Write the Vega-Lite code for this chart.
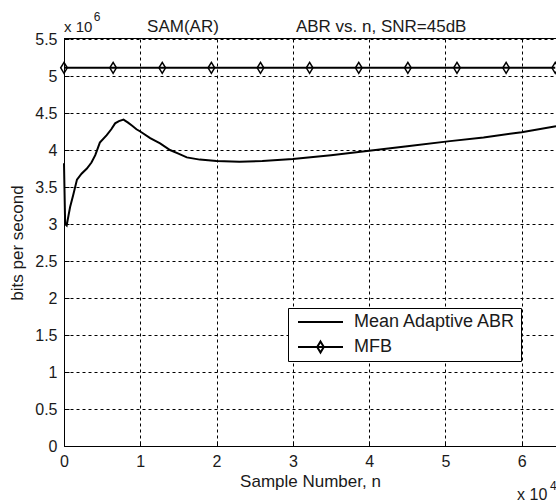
{
  "$schema": "https://vega.github.io/schema/vega-lite/v6.json",
  "width": 492,
  "height": 407,
  "autosize": {"type": "none"},
  "padding": {"left": 64, "top": 39, "right": 0, "bottom": 57},
  "background": "white",
  "config": {
    "view": {"stroke": null},
    "font": "Liberation Sans",
    "text": {"font": "Liberation Sans", "color": "#1a1a1a"},
    "axis": {
      "labelFont": "Liberation Sans",
      "titleFont": "Liberation Sans",
      "labelColor": "#1a1a1a",
      "titleColor": "#1a1a1a",
      "labelFontSize": 16,
      "titleFontSize": 17,
      "titleFontWeight": "normal",
      "domainColor": "black",
      "domainWidth": 1,
      "tickColor": "black",
      "gridColor": "black",
      "gridOpacity": 1,
      "gridWidth": 1,
      "gridDash": [3, 3]
    },
    "legend": {"labelFont": "Liberation Sans"}
  },
  "datasets": {
    "abr": [
      {"series": "Mean Adaptive ABR", "n": 0, "abr": 3.82},
      {"series": "Mean Adaptive ABR", "n": 0.015, "abr": 3.0},
      {"series": "Mean Adaptive ABR", "n": 0.035, "abr": 2.98},
      {"series": "Mean Adaptive ABR", "n": 0.06, "abr": 3.12},
      {"series": "Mean Adaptive ABR", "n": 0.08, "abr": 3.23},
      {"series": "Mean Adaptive ABR", "n": 0.12, "abr": 3.39},
      {"series": "Mean Adaptive ABR", "n": 0.17, "abr": 3.6},
      {"series": "Mean Adaptive ABR", "n": 0.23, "abr": 3.68},
      {"series": "Mean Adaptive ABR", "n": 0.3, "abr": 3.75},
      {"series": "Mean Adaptive ABR", "n": 0.36, "abr": 3.83},
      {"series": "Mean Adaptive ABR", "n": 0.41, "abr": 3.93},
      {"series": "Mean Adaptive ABR", "n": 0.47, "abr": 4.1},
      {"series": "Mean Adaptive ABR", "n": 0.56, "abr": 4.2},
      {"series": "Mean Adaptive ABR", "n": 0.62, "abr": 4.28},
      {"series": "Mean Adaptive ABR", "n": 0.67, "abr": 4.36},
      {"series": "Mean Adaptive ABR", "n": 0.72, "abr": 4.39},
      {"series": "Mean Adaptive ABR", "n": 0.78, "abr": 4.41},
      {"series": "Mean Adaptive ABR", "n": 0.84, "abr": 4.37},
      {"series": "Mean Adaptive ABR", "n": 0.89, "abr": 4.33},
      {"series": "Mean Adaptive ABR", "n": 0.95, "abr": 4.28},
      {"series": "Mean Adaptive ABR", "n": 1.0, "abr": 4.25},
      {"series": "Mean Adaptive ABR", "n": 1.13, "abr": 4.16},
      {"series": "Mean Adaptive ABR", "n": 1.26, "abr": 4.09},
      {"series": "Mean Adaptive ABR", "n": 1.39, "abr": 4.0},
      {"series": "Mean Adaptive ABR", "n": 1.5, "abr": 3.95},
      {"series": "Mean Adaptive ABR", "n": 1.61, "abr": 3.9},
      {"series": "Mean Adaptive ABR", "n": 1.78, "abr": 3.87},
      {"series": "Mean Adaptive ABR", "n": 2.0, "abr": 3.85},
      {"series": "Mean Adaptive ABR", "n": 2.3, "abr": 3.84},
      {"series": "Mean Adaptive ABR", "n": 2.6, "abr": 3.85},
      {"series": "Mean Adaptive ABR", "n": 3.0, "abr": 3.88},
      {"series": "Mean Adaptive ABR", "n": 3.5, "abr": 3.93},
      {"series": "Mean Adaptive ABR", "n": 4.0, "abr": 3.99},
      {"series": "Mean Adaptive ABR", "n": 4.5, "abr": 4.05},
      {"series": "Mean Adaptive ABR", "n": 5.06, "abr": 4.12},
      {"series": "Mean Adaptive ABR", "n": 5.5, "abr": 4.17},
      {"series": "Mean Adaptive ABR", "n": 6.0, "abr": 4.24},
      {"series": "Mean Adaptive ABR", "n": 6.45, "abr": 4.32},
      {"series": "MFB", "n": 0, "abr": 5.11},
      {"series": "MFB", "n": 0.644, "abr": 5.11},
      {"series": "MFB", "n": 1.288, "abr": 5.11},
      {"series": "MFB", "n": 1.932, "abr": 5.11},
      {"series": "MFB", "n": 2.576, "abr": 5.11},
      {"series": "MFB", "n": 3.22, "abr": 5.11},
      {"series": "MFB", "n": 3.864, "abr": 5.11},
      {"series": "MFB", "n": 4.508, "abr": 5.11},
      {"series": "MFB", "n": 5.152, "abr": 5.11},
      {"series": "MFB", "n": 5.796, "abr": 5.11},
      {"series": "MFB", "n": 6.44, "abr": 5.11}
    ],
    "one": [{"top": 5.5}]
  },
  "layer": [
    {
      "data": {"name": "abr"},
      "mark": {"type": "line", "strokeWidth": 2},
      "encoding": {
        "x": {"field": "n", "type": "quantitative", "scale": {"domain": [0, 6.45], "nice": false, "zero": false},
          "axis": {"values": [0, 1, 2, 3, 4, 5, 6], "title": "Sample Number, n", "grid": true, "ticks": true, "tickSize": -5, "labelPadding": 12, "titlePadding": 4, "labelFlush": false}},
        "y": {"field": "abr", "type": "quantitative", "scale": {"domain": [0, 5.5], "nice": false, "zero": false},
          "axis": {"values": [0, 0.5, 1, 1.5, 2, 2.5, 3, 3.5, 4, 4.5, 5, 5.5], "format": "~g", "title": "bits per second", "grid": true, "ticks": true, "tickSize": -5, "labelPadding": 12, "titlePadding": 8, "labelFlush": false}},
        "color": {
          "field": "series", "type": "nominal",
          "scale": {"domain": ["Mean Adaptive ABR", "MFB"], "range": ["black", "black"]},
          "legend": {
            "title": null,
            "orient": "none",
            "legendX": 224,
            "legendY": 269,
            "fillColor": "white",
            "strokeColor": "black",
            "padding": 4,
            "clipHeight": 20,
            "rowPadding": 5,
            "symbolType": "M-1,0H1",
            "symbolSize": 2025,
            "symbolStrokeWidth": 2,
            "symbolOffset": 5,
            "labelOffset": 10,
            "labelFontSize": 18,
            "labelColor": "#1a1a1a",
            "labelLimit": 300,
            "encode": {
              "symbols": {
                "update": {
                  "shape": {"signal": "datum.value === 'MFB' ? 'M-1,0H1M0,-0.244L0.147,0L0,0.244L-0.147,0Z' : 'M-1,0H1'"},
                  "fill": {"value": "transparent"},
                  "stroke": {"value": "black"}
                }
              }
            }
          }
        }
      }
    },
    {
      "data": {"name": "abr"},
      "transform": [{"filter": "datum.series === 'MFB'"}],
      "mark": {"type": "point", "shape": "M0,-1L0.6,0L0,1L-0.6,0Z", "size": 121, "filled": false, "stroke": "black", "strokeWidth": 1.5, "opacity": 1},
      "encoding": {
        "x": {"field": "n", "type": "quantitative", "scale": {"domain": [0, 6.45], "nice": false, "zero": false},
          "axis": {"values": [0, 1, 2, 3, 4, 5, 6], "title": "Sample Number, n", "grid": true, "ticks": true, "tickSize": -5, "labelPadding": 12, "titlePadding": 4, "labelFlush": false}},
        "y": {"field": "abr", "type": "quantitative", "scale": {"domain": [0, 5.5], "nice": false, "zero": false},
          "axis": {"values": [0, 0.5, 1, 1.5, 2, 2.5, 3, 3.5, 4, 4.5, 5, 5.5], "format": "~g", "title": "bits per second", "grid": true, "ticks": true, "tickSize": -5, "labelPadding": 12, "titlePadding": 8, "labelFlush": false}}
      }
    },
    {
      "data": {"name": "one"},
      "mark": {"type": "rule", "color": "black", "strokeWidth": 1, "yOffset": -0.5},
      "encoding": {
        "y": {"field": "top", "type": "quantitative", "scale": {"domain": [0, 5.5], "nice": false, "zero": false},
          "axis": {"values": [0, 0.5, 1, 1.5, 2, 2.5, 3, 3.5, 4, 4.5, 5, 5.5], "format": "~g", "title": "bits per second", "grid": true, "ticks": true, "tickSize": -5, "labelPadding": 12, "titlePadding": 8, "labelFlush": false}}
      }
    },
    {
      "data": {"name": "one"},
      "mark": {"type": "text", "align": "center", "baseline": "alphabetic", "fontSize": 17, "text": "SAM(AR)"},
      "encoding": {
        "x": {"datum": 1.56, "type": "quantitative", "scale": {"domain": [0, 6.45], "nice": false, "zero": false},
          "axis": {"values": [0, 1, 2, 3, 4, 5, 6], "title": "Sample Number, n", "grid": true, "ticks": true, "tickSize": -5, "labelPadding": 12, "titlePadding": 4, "labelFlush": false}},
        "y": {"datum": 5.6, "type": "quantitative", "scale": {"domain": [0, 5.5], "nice": false, "zero": false},
          "axis": {"values": [0, 0.5, 1, 1.5, 2, 2.5, 3, 3.5, 4, 4.5, 5, 5.5], "format": "~g", "title": "bits per second", "grid": true, "ticks": true, "tickSize": -5, "labelPadding": 12, "titlePadding": 8, "labelFlush": false}}
      }
    },
    {
      "data": {"name": "one"},
      "mark": {"type": "text", "align": "left", "baseline": "alphabetic", "fontSize": 17, "text": "ABR vs. n, SNR=45dB"},
      "encoding": {
        "x": {"datum": 3.04, "type": "quantitative", "scale": {"domain": [0, 6.45], "nice": false, "zero": false},
          "axis": {"values": [0, 1, 2, 3, 4, 5, 6], "title": "Sample Number, n", "grid": true, "ticks": true, "tickSize": -5, "labelPadding": 12, "titlePadding": 4, "labelFlush": false}},
        "y": {"datum": 5.6, "type": "quantitative", "scale": {"domain": [0, 5.5], "nice": false, "zero": false},
          "axis": {"values": [0, 0.5, 1, 1.5, 2, 2.5, 3, 3.5, 4, 4.5, 5, 5.5], "format": "~g", "title": "bits per second", "grid": true, "ticks": true, "tickSize": -5, "labelPadding": 12, "titlePadding": 8, "labelFlush": false}}
      }
    },
    {
      "data": {"name": "one"},
      "mark": {"type": "text", "align": "left", "baseline": "alphabetic", "fontSize": 15, "text": "x 10"},
      "encoding": {
        "x": {"datum": 0, "type": "quantitative", "scale": {"domain": [0, 6.45], "nice": false, "zero": false},
          "axis": {"values": [0, 1, 2, 3, 4, 5, 6], "title": "Sample Number, n", "grid": true, "ticks": true, "tickSize": -5, "labelPadding": 12, "titlePadding": 4, "labelFlush": false}},
        "y": {"datum": 5.6, "type": "quantitative", "scale": {"domain": [0, 5.5], "nice": false, "zero": false},
          "axis": {"values": [0, 0.5, 1, 1.5, 2, 2.5, 3, 3.5, 4, 4.5, 5, 5.5], "format": "~g", "title": "bits per second", "grid": true, "ticks": true, "tickSize": -5, "labelPadding": 12, "titlePadding": 8, "labelFlush": false}}
      }
    },
    {
      "data": {"name": "one"},
      "mark": {"type": "text", "align": "left", "baseline": "alphabetic", "fontSize": 12, "text": "6"},
      "encoding": {
        "x": {"datum": 0.39, "type": "quantitative", "scale": {"domain": [0, 6.45], "nice": false, "zero": false},
          "axis": {"values": [0, 1, 2, 3, 4, 5, 6], "title": "Sample Number, n", "grid": true, "ticks": true, "tickSize": -5, "labelPadding": 12, "titlePadding": 4, "labelFlush": false}},
        "y": {"datum": 5.74, "type": "quantitative", "scale": {"domain": [0, 5.5], "nice": false, "zero": false},
          "axis": {"values": [0, 0.5, 1, 1.5, 2, 2.5, 3, 3.5, 4, 4.5, 5, 5.5], "format": "~g", "title": "bits per second", "grid": true, "ticks": true, "tickSize": -5, "labelPadding": 12, "titlePadding": 8, "labelFlush": false}}
      }
    },
    {
      "data": {"name": "one"},
      "mark": {"type": "text", "align": "left", "baseline": "alphabetic", "fontSize": 16, "text": "x 10"},
      "encoding": {
        "x": {"datum": 5.94, "type": "quantitative", "scale": {"domain": [0, 6.45], "nice": false, "zero": false},
          "axis": {"values": [0, 1, 2, 3, 4, 5, 6], "title": "Sample Number, n", "grid": true, "ticks": true, "tickSize": -5, "labelPadding": 12, "titlePadding": 4, "labelFlush": false}},
        "y": {"datum": -0.73, "type": "quantitative", "scale": {"domain": [0, 5.5], "nice": false, "zero": false},
          "axis": {"values": [0, 0.5, 1, 1.5, 2, 2.5, 3, 3.5, 4, 4.5, 5, 5.5], "format": "~g", "title": "bits per second", "grid": true, "ticks": true, "tickSize": -5, "labelPadding": 12, "titlePadding": 8, "labelFlush": false}}
      }
    },
    {
      "data": {"name": "one"},
      "mark": {"type": "text", "align": "left", "baseline": "alphabetic", "fontSize": 12, "text": "4"},
      "encoding": {
        "x": {"datum": 6.37, "type": "quantitative", "scale": {"domain": [0, 6.45], "nice": false, "zero": false},
          "axis": {"values": [0, 1, 2, 3, 4, 5, 6], "title": "Sample Number, n", "grid": true, "ticks": true, "tickSize": -5, "labelPadding": 12, "titlePadding": 4, "labelFlush": false}},
        "y": {"datum": -0.6, "type": "quantitative", "scale": {"domain": [0, 5.5], "nice": false, "zero": false},
          "axis": {"values": [0, 0.5, 1, 1.5, 2, 2.5, 3, 3.5, 4, 4.5, 5, 5.5], "format": "~g", "title": "bits per second", "grid": true, "ticks": true, "tickSize": -5, "labelPadding": 12, "titlePadding": 8, "labelFlush": false}}
      }
    }
  ]
}
